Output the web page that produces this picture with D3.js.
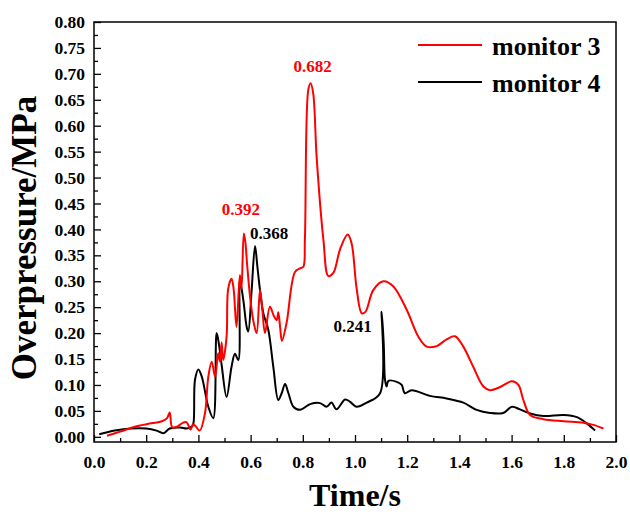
<!DOCTYPE html>
<html>
<head>
<meta charset="utf-8">
<script src="https://cdn.jsdelivr.net/npm/d3@7"></script>
<style>
  body { margin: 0; background: #fff; }
  svg text { font-family: "Liberation Serif", "Times New Roman", serif; font-weight: bold; }
  .line { fill: none; stroke-width: 2; }
</style>
</head>
<body>
<svg id="chart" width="630" height="514"></svg>
<script>
// monitor 3 (red)
var time3 = [0.05,0.10,0.16,0.22,0.26,0.28,0.29,0.30,0.32,0.34,0.355,0.37,0.38,0.39,0.405,0.425,0.438,0.451,0.464,0.476,0.483,0.489,0.495,0.508,0.514,0.527,0.535,0.546,0.559,0.565,0.574,0.580,0.587,0.598,0.610,0.623,0.636,0.645,0.655,0.674,0.690,0.700,0.706,0.713,0.720,0.738,0.770,0.790,0.802,0.808,0.821,0.830,0.840,0.853,0.879,0.898,0.917,0.943,0.972,0.987,1.006,1.026,1.040,1.070,1.109,1.147,1.198,1.243,1.275,1.313,1.351,1.383,1.415,1.453,1.492,1.517,1.556,1.601,1.626,1.645,1.671,1.722,1.799,1.875,1.913,1.952];
var press3 = [0.002,0.010,0.020,0.026,0.030,0.036,0.047,0.018,0.020,0.027,0.028,0.014,0.024,0.020,0.012,0.045,0.116,0.145,0.116,0.161,0.145,0.182,0.148,0.193,0.285,0.305,0.285,0.212,0.312,0.285,0.392,0.375,0.330,0.270,0.225,0.200,0.283,0.245,0.200,0.251,0.232,0.225,0.240,0.212,0.185,0.220,0.318,0.325,0.328,0.380,0.669,0.682,0.662,0.540,0.380,0.310,0.316,0.362,0.390,0.373,0.287,0.238,0.241,0.283,0.300,0.290,0.245,0.193,0.174,0.175,0.188,0.194,0.174,0.135,0.097,0.090,0.096,0.107,0.100,0.071,0.042,0.034,0.030,0.027,0.023,0.016];

// monitor 4 (black)
var time4 = [0.02,0.08,0.14,0.20,0.24,0.266,0.29,0.33,0.355,0.375,0.381,0.387,0.400,0.413,0.438,0.457,0.470,0.480,0.489,0.508,0.527,0.540,0.553,0.559,0.572,0.585,0.591,0.604,0.617,0.626,0.636,0.649,0.668,0.687,0.706,0.719,0.732,0.745,0.764,0.789,0.828,0.866,0.891,0.910,0.929,0.962,0.980,1.006,1.045,1.096,1.102,1.110,1.115,1.121,1.128,1.160,1.179,1.191,1.217,1.287,1.351,1.415,1.466,1.517,1.568,1.601,1.632,1.671,1.722,1.799,1.850,1.888,1.920];
var press4 = [0.005,0.012,0.016,0.016,0.012,0.007,0.016,0.018,0.016,0.020,0.026,0.110,0.130,0.116,0.058,0.036,0.200,0.174,0.139,0.077,0.135,0.160,0.148,0.302,0.264,0.212,0.203,0.283,0.368,0.328,0.283,0.238,0.206,0.135,0.071,0.084,0.102,0.084,0.058,0.052,0.063,0.065,0.058,0.066,0.053,0.072,0.068,0.058,0.066,0.084,0.241,0.180,0.110,0.097,0.108,0.106,0.100,0.084,0.090,0.079,0.074,0.066,0.052,0.046,0.046,0.058,0.053,0.045,0.040,0.042,0.038,0.026,0.012];

var seriesNames = ["monitor 3", "monitor 4"];
var seriesColors = ["#ff0000", "#000000"];

// peak labels
var peakTimes = [0.574, 0.617, 0.830, 1.102];
var peakValues = [0.392, 0.368, 0.682, 0.241];
var peakSeries = [0, 1, 0, 1];

var xTicks = [0.0,0.2,0.4,0.6,0.8,1.0,1.2,1.4,1.6,1.8,2.0];
var yTicks = d3.range(0, 0.8001, 0.05);

var margin = {top: 22, right: 14, bottom: 72, left: 94};
var width = 630 - margin.left - margin.right,
    height = 514 - margin.top - margin.bottom;

var x = d3.scaleLinear().domain([0, 2.0]).range([0, width]);
var y = d3.scaleLinear().domain([-0.01, 0.8]).range([height, 0]);

var svg = d3.select("#chart").append("g")
  .attr("transform", "translate(" + margin.left + "," + margin.top + ")");

//Minor ticks
svg.append("g")
  .attr("transform", "translate(0," + height + ")")
  .call(d3.axisBottom(x).tickValues(d3.range(0.1, 2.0, 0.2)).tickSize(-4).tickFormat(""))
  .call(function(g){ g.select(".domain").remove(); });
svg.append("g")
  .call(d3.axisLeft(y).tickValues(d3.range(0.025, 0.8, 0.05)).tickSize(-4).tickFormat(""))
  .call(function(g){ g.select(".domain").remove(); });

//Major ticks w/ labels
var xAxis = svg.append("g")
  .attr("transform", "translate(0," + height + ")")
  .call(d3.axisBottom(x).tickValues(xTicks).tickSize(-7).tickPadding(14).tickFormat(d3.format(".1f")));
xAxis.select(".domain").remove();
xAxis.selectAll("text").style("font-size", "17.5px").attr("fill", "#000");

var yAxis = svg.append("g")
  .call(d3.axisLeft(y).tickValues(yTicks).tickSize(-7).tickPadding(9).tickFormat(d3.format(".2f")));
yAxis.select(".domain").remove();
yAxis.selectAll("text").style("font-size", "17.5px").attr("fill", "#000");

svg.selectAll(".tick line").style("stroke", "#000").style("stroke-width", 1.3);

//Frame
svg.append("rect")
  .attr("width", width)
  .attr("height", height)
  .style("fill", "none")
  .style("stroke", "#000")
  .style("stroke-width", 1.5);

//Lines
var line = d3.line()
  .x(function(d){ return x(d[0]); })
  .y(function(d){ return y(d[1]); })
  .curve(d3.curveCatmullRom.alpha(0.5));

var data3 = time3.map(function(t, i){ return [t, press3[i]]; });
var data4 = time4.map(function(t, i){ return [t, press4[i]]; });

svg.append("path").datum(data4).attr("class", "line").style("stroke", seriesColors[1]).attr("d", line);
svg.append("path").datum(data3).attr("class", "line").style("stroke", seriesColors[0]).attr("d", line);

//Peak labels
var labelDx = [-3, 14, 2, -29];
var labelDy = [-19, -7, -11, 20];
peakTimes.forEach(function(t, i){
  svg.append("text")
    .attr("x", x(t) + labelDx[i])
    .attr("y", y(peakValues[i]) + labelDy[i])
    .attr("text-anchor", "middle")
    .style("font-size", "17px")
    .style("fill", seriesColors[peakSeries[i]])
    .text(d3.format(".3f")(peakValues[i]));
});

//Legend
seriesNames.forEach(function(name, i){
  var ly = 23 + i * 37;
  svg.append("line")
    .attr("x1", 324).attr("x2", 388)
    .attr("y1", ly).attr("y2", ly)
    .style("stroke", seriesColors[i])
    .style("stroke-width", 2);
  svg.append("text")
    .attr("x", 398)
    .attr("y", ly + 10)
    .style("font-size", "26px")
    .text(name);
});

//Axis titles
svg.append("text")
  .attr("x", 355 - margin.left)
  .attr("y", height + 64)
  .attr("text-anchor", "middle")
  .style("font-size", "32px")
  .text("Time/s");

svg.append("text")
  .attr("transform", "rotate(-90)")
  .attr("x", -(238 - margin.top))
  .attr("y", 36 - margin.left)
  .attr("text-anchor", "middle")
  .style("font-size", "35px")
  .text("Overpressure/MPa");
</script>
</body>
</html>
